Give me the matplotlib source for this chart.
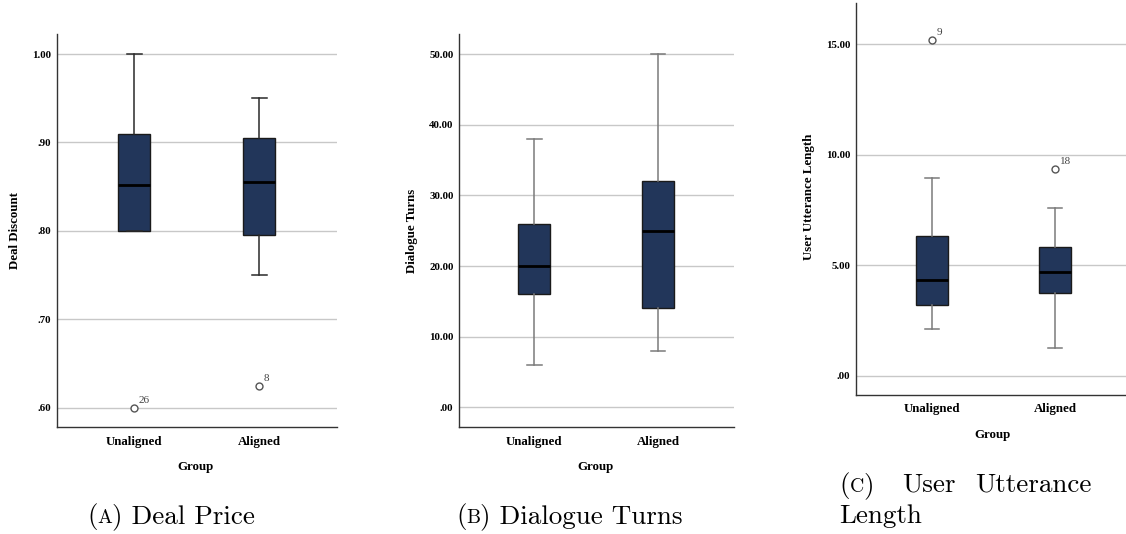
import matplotlib
matplotlib.use('Agg')
import matplotlib.pyplot as plt


groups = ['Unaligned', 'Aligned']

# deal discount
price_lo  = [0.80, 0.75]
price_q1  = [0.80, 0.795]
price_med = [0.852, 0.855]
price_q3  = [0.91, 0.905]
price_hi  = [1.00, 0.95]
price_out = [[0.60], [0.625]]
price_ids = [['26'], ['8']]
price_ticks = [0.60, 0.70, 0.80, 0.90, 1.00]

# dialogue turns
turns_lo  = [6.0, 8.0]
turns_q1  = [16.0, 14.0]
turns_med = [20.0, 25.0]
turns_q3  = [26.0, 32.0]
turns_hi  = [38.0, 50.0]
turns_out = [[], []]
turns_ids = [[], []]
turns_ticks = [0, 10, 20, 30, 40, 50]

# user utterance length
utt_lo  = [2.10, 1.23]
utt_q1  = [3.20, 3.76]
utt_med = [4.34, 4.70]
utt_q3  = [6.30, 5.80]
utt_hi  = [8.92, 7.57]
utt_out = [[15.17], [9.34]]
utt_ids = [['9'], ['18']]
utt_ticks = [0, 5, 10, 15]

W, H = 1126, 534
fig = plt.figure(figsize=(W / 100, H / 100), dpi=100)

navy = '#22365a'
bold_serif = dict(family='Liberation Serif', weight='bold')


def fmt(v):
	s = '%.2f' % v
	if s.startswith('0.'):
		s = s[1:]
	return s


def panel(rect, lo, q1, med, q3, hi, out, ids, ticks, ylim, xlim, ylabel, whisk):
	ax = fig.add_axes(rect)
	stats = []
	for i in range(len(groups)):
		stats.append(dict(whislo=lo[i], q1=q1[i], med=med[i], q3=q3[i],
						  whishi=hi[i], fliers=out[i], label=groups[i]))
	ax.bxp(stats, positions=range(len(groups)), widths=0.26, capwidths=0.12,
		   patch_artist=True, showfliers=True,
		   boxprops=dict(facecolor=navy, edgecolor='#1a1a1a', linewidth=1.0),
		   medianprops=dict(color='black', linewidth=2.0),
		   whiskerprops=dict(color=whisk, linewidth=1.1),
		   capprops=dict(color=whisk, linewidth=1.1),
		   flierprops=dict(marker='o', markersize=5, markerfacecolor='white',
						   markeredgecolor='#555555', markeredgewidth=1.0))
	for i in range(len(groups)):
		for v, lab in zip(out[i], ids[i]):
			ax.annotate(lab, (i, v), xytext=(5, 3), textcoords='offset pixels',
						fontsize=8, family='Liberation Serif', color='#444444',
						ha='left', va='bottom')
	ax.set_xlim(*xlim)
	ax.set_ylim(*ylim)
	ax.set_yticks(ticks)
	ax.set_yticklabels([fmt(t) for t in ticks], fontsize=7.8, **bold_serif)
	ax.set_xticks(range(len(groups)))
	ax.set_xticklabels(groups, fontsize=9.3, **bold_serif)
	ax.tick_params(length=0)
	ax.tick_params(axis='y', pad=4)
	ax.tick_params(axis='x', pad=6)
	ax.yaxis.grid(True, color='#c8c8c8', linewidth=1.0)
	ax.set_axisbelow(True)
	for s in ['top', 'right']:
		ax.spines[s].set_visible(False)
	for s in ['left', 'bottom']:
		ax.spines[s].set_color('#333333')
		ax.spines[s].set_linewidth(1.0)
	ax.set_ylabel(ylabel, fontsize=9.3, va='center', **bold_serif)
	ax.set_xlabel('Group', fontsize=9.3, va='center', **bold_serif)
	return ax


ax1 = panel([57 / W, 1 - 427.3 / H, 280 / W, 393 / H],
			price_lo, price_q1, price_med, price_q3, price_hi, price_out, price_ids,
			price_ticks, (0.578, 1.0223), (-0.616, 1.624), 'Deal Discount', '#2a2a2a')
ax1.yaxis.set_label_coords(-0.15, 0.5)
ax1.xaxis.set_label_coords(0.496, -0.100)

ax2 = panel([459 / W, 1 - 427.3 / H, 275 / W, 393 / H],
			turns_lo, turns_q1, turns_med, turns_q3, turns_hi, turns_out, turns_ids,
			turns_ticks, (-2.83, 52.8), (-0.609, 1.614), 'Dialogue Turns', '#7a7a7a')
ax2.yaxis.set_label_coords(-0.171, 0.5)
ax2.xaxis.set_label_coords(0.498, -0.101)

ax3 = panel([856 / W, 1 - 394.7 / H, 275 / W, 392 / H],
			utt_lo, utt_q1, utt_med, utt_q3, utt_hi, utt_out, utt_ids,
			utt_ticks, (-0.86, 16.87), (-0.618, 1.618), 'User Utterance Length', '#7a7a7a')
ax3.yaxis.set_label_coords(-0.171, 0.505)
ax3.xaxis.set_label_coords(0.498, -0.103)


# captions (small caps letter drawn smaller)
cap_size = 19.5
sc_size = 14.2
renderer = fig.canvas.get_renderer()


def caption(x, y, pieces):
	for txt, size in pieces:
		t = fig.text(x / W, 1 - y / H, txt, fontsize=size, family='cmr10',
					 ha='left', va='baseline')
		bb = t.get_window_extent(renderer)
		x = bb.x1


caption(87, 523, [('(', cap_size), ('A', sc_size), (') Deal Price', cap_size)])
caption(456, 523, [('(', cap_size), ('B', sc_size), (') Dialogue Turns', cap_size)])
caption(839, 492, [('(', cap_size), ('C', sc_size), (')', cap_size)])
caption(902, 492, [('User', cap_size)])
caption(975, 492, [('Utterance', cap_size)])
caption(839, 523, [('Length', cap_size)])

fig.savefig('out.png', dpi=100)
